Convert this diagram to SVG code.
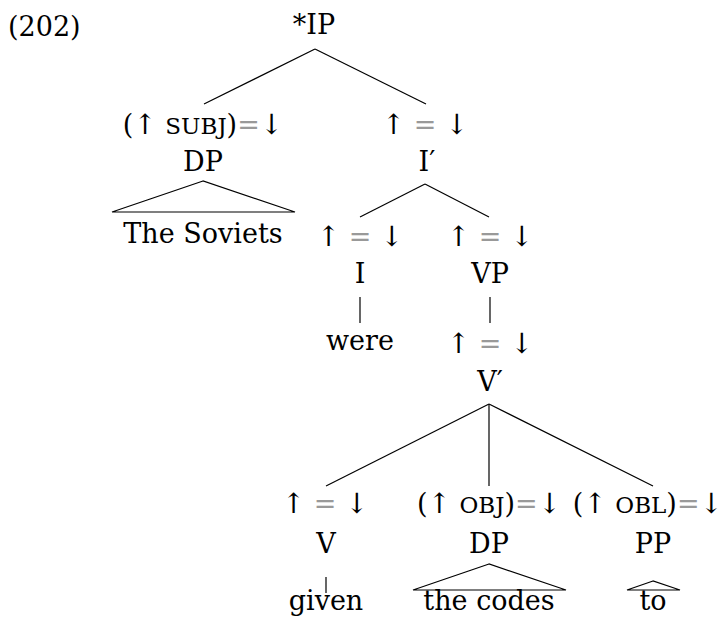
<svg xmlns="http://www.w3.org/2000/svg" width="728" height="627" viewBox="0 0 728 627">
<style>
text { font-family: 'DejaVu Serif', 'Liberation Serif', serif; font-size: 27px; fill: #000; text-anchor: middle; }
.sc { font-size: 23px; }
.eq { fill: #999; }
.ar { font-family: 'DejaVu Serif', 'DejaVu Sans', serif; font-size: 28px; }
.edge { stroke: #000; stroke-width: 1.2; fill: none; }
</style>
<rect width="728" height="627" fill="#fff"/>
<text x="8" y="36" style="text-anchor:start">(202)</text>
<g id="connectors">
<line class="edge" x1="315" y1="49" x2="204" y2="104"/>
<line class="edge" x1="315" y1="49" x2="426" y2="104"/>
<polygon class="edge" points="203,181 112,212 295,212"/>
<line class="edge" x1="425" y1="184" x2="360" y2="217"/>
<line class="edge" x1="425" y1="184" x2="489" y2="217"/>
<line class="edge" x1="360" y1="297" x2="360" y2="323"/>
<line class="edge" x1="490" y1="297" x2="490" y2="323"/>
<line class="edge" x1="489" y1="404" x2="326" y2="486"/>
<line class="edge" x1="489" y1="404" x2="489" y2="486"/>
<line class="edge" x1="489" y1="404" x2="653" y2="486"/>
<line class="edge" x1="326" y1="577" x2="326" y2="593"/>
<polygon class="edge" points="489,564 413,590 566,590"/>
<polygon class="edge" points="653,581 627,590 680,590"/>
</g>
<g id="n-IP"><text x="314" y="34">*IP</text></g>
<g id="n-DP1">
<text x="203" y="134">(<tspan class="ar">↑</tspan> <tspan class="sc">SUBJ</tspan>)<tspan class="eq">=</tspan><tspan class="ar">↓</tspan></text>
<text x="203" y="171">DP</text>
</g>
<g id="n-Soviets"><text x="203" y="243">The Soviets</text></g>
<g id="n-Ibar">
<text x="425" y="134"><tspan class="ar">↑</tspan> <tspan class="eq">=</tspan> <tspan class="ar">↓</tspan></text>
<text x="427" y="171">I′</text>
</g>
<g id="n-I">
<text x="360" y="246"><tspan class="ar">↑</tspan> <tspan class="eq">=</tspan> <tspan class="ar">↓</tspan></text>
<text x="360" y="283">I</text>
</g>
<g id="n-were"><text x="360" y="350">were</text></g>
<g id="n-VP">
<text x="490" y="246"><tspan class="ar">↑</tspan> <tspan class="eq">=</tspan> <tspan class="ar">↓</tspan></text>
<text x="490" y="283">VP</text>
</g>
<g id="n-Vbar">
<text x="490" y="353"><tspan class="ar">↑</tspan> <tspan class="eq">=</tspan> <tspan class="ar">↓</tspan></text>
<text x="490" y="391">V′</text>
</g>
<g id="n-V">
<text x="325" y="513"><tspan class="ar">↑</tspan> <tspan class="eq">=</tspan> <tspan class="ar">↓</tspan></text>
<text x="326" y="553">V</text>
</g>
<g id="n-given"><text x="326" y="610">given</text></g>
<g id="n-DP2">
<text x="489" y="513">(<tspan class="ar">↑</tspan> <tspan class="sc">OBJ</tspan>)<tspan class="eq">=</tspan><tspan class="ar">↓</tspan></text>
<text x="489" y="553">DP</text>
</g>
<g id="n-codes"><text x="489" y="610">the codes</text></g>
<g id="n-PP">
<text x="723" y="513" style="text-anchor:end">(<tspan class="ar">↑</tspan> <tspan class="sc">OBL</tspan>)<tspan class="eq">=</tspan><tspan class="ar">↓</tspan></text>
<text x="653" y="553">PP</text>
</g>
<g id="n-to"><text x="653" y="610">to</text></g>
</svg>
